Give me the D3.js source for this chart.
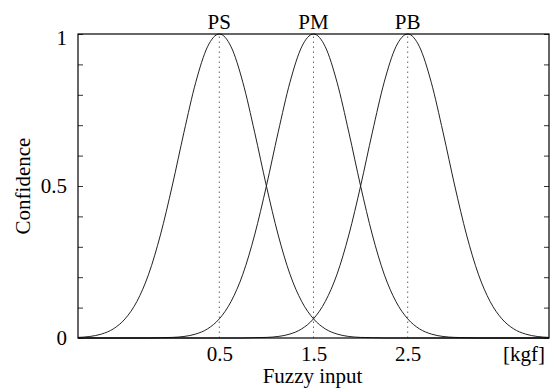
<!DOCTYPE html>
<html>
<head>
<meta charset="utf-8">
<script src="https://cdn.jsdelivr.net/npm/d3@7"></script>
<style>
  body { margin: 0; background: #fff; }
  svg text { font-family: "Liberation Serif", "Times New Roman", Times, "DejaVu Serif", serif !important; fill: #000; }
</style>
</head>
<body>
<svg id="svg1" width="551" height="392"></svg>
<script>
// sample positions along the fuzzy input axis (every 0.125)
const xs = [-1, -0.875, -0.75, -0.625, -0.5, -0.375, -0.25, -0.125,
            0, 0.125, 0.25, 0.375, 0.5, 0.625, 0.75, 0.875,
            1, 1.125, 1.25, 1.375, 1.5, 1.625, 1.75, 1.875,
            2, 2.125, 2.25, 2.375, 2.5, 2.625, 2.75, 2.875,
            3, 3.125, 3.25, 3.375, 3.5, 3.625, 3.75, 3.875, 4];

// membership values
const ps = [0.002, 0.005, 0.013, 0.030, 0.063, 0.120, 0.210, 0.339,
            0.5, 0.677, 0.841, 0.958, 1, 0.958, 0.841, 0.677,
            0.5, 0.339, 0.210, 0.120, 0.063, 0.030, 0.013, 0.005,
            0.002, 0.001, 0, 0, 0, 0, 0, 0,
            0, 0, 0, 0, 0, 0, 0, 0, 0];
const pm = [0, 0, 0, 0, 0, 0, 0, 0.001,
            0.002, 0.005, 0.013, 0.030, 0.063, 0.120, 0.210, 0.339,
            0.5, 0.677, 0.841, 0.958, 1, 0.958, 0.841, 0.677,
            0.5, 0.339, 0.210, 0.120, 0.063, 0.030, 0.013, 0.005,
            0.002, 0.001, 0, 0, 0, 0, 0, 0, 0];
const pb = [0, 0, 0, 0, 0, 0, 0, 0,
            0, 0, 0, 0, 0, 0, 0, 0.001,
            0.002, 0.005, 0.013, 0.030, 0.063, 0.120, 0.210, 0.339,
            0.5, 0.677, 0.841, 0.958, 1, 0.958, 0.841, 0.677,
            0.5, 0.339, 0.210, 0.120, 0.063, 0.030, 0.013, 0.005, 0.002];

const seriesNames = ["PS", "PM", "PB"];
const centers = [0.5, 1.5, 2.5];

const xTickValues = [0.5, 1.5, 2.5, 3.73];
const xTickLabels = ["0.5", "1.5", "2.5", "[kgf]"];
const yTickValues = [0, 0.1, 0.2, 0.3, 0.4, 0.5, 0.6, 0.7, 0.8, 0.9, 1];
const yTickLabels = { 0: "0", 0.5: "0.5", 1: "1" };

const margin = { top: 34, right: 2, bottom: 54, left: 78 };
const width = 551 - margin.left - margin.right;
const height = 392 - margin.top - margin.bottom;
const fontSize = "21px";

const svg = d3.select("#svg1")
    .append("g")
    .attr("transform", `translate(${margin.left},${margin.top})`);

const x = d3.scaleLinear().domain([-1, 4]).range([0, width]);
const y = d3.scaleLinear().domain([0, 1]).range([height, 0]);

// dotted guides at the peaks
svg.append("g")
    .selectAll("line")
    .data(centers)
    .join("line")
    .attr("x1", d => x(d)).attr("x2", d => x(d))
    .attr("y1", y(0)).attr("y2", y(1))
    .attr("stroke", "#666")
    .attr("stroke-width", 1)
    .attr("stroke-dasharray", "1.5,3.5");

// curves
const line = d3.line()
    .x((d, i) => x(xs[i]))
    .y(d => y(d))
    .curve(d3.curveMonotoneX);

svg.append("g")
    .selectAll("path")
    .data([ps, pm, pb])
    .join("path")
    .attr("fill", "none")
    .attr("stroke", "#222")
    .attr("stroke-width", 1)
    .attr("d", d => line(d));

// left axis with inward ticks
const yAxis = svg.append("g")
    .call(d3.axisRight(y).tickValues(yTickValues).tickSize(5).tickFormat(""));
yAxis.select(".domain").remove();
yAxis.selectAll("line").attr("stroke", "#333");

// right axis with inward ticks
const yAxisR = svg.append("g")
    .attr("transform", `translate(${width},0)`)
    .call(d3.axisLeft(y).tickValues(yTickValues).tickSize(5).tickFormat(""));
yAxisR.select(".domain").remove();
yAxisR.selectAll("line").attr("stroke", "#333");

// y labels
svg.append("g")
    .selectAll("text")
    .data(yTickValues.filter(d => yTickLabels[d] !== undefined))
    .join("text")
    .attr("x", -11)
    .attr("y", d => y(d))
    .attr("dy", d => d === 1 ? "0.5em" : "0.33em")
    .attr("text-anchor", "end")
    .style("font-size", fontSize)
    .text(d => yTickLabels[d]);

// x labels
const xAxis = svg.append("g")
    .attr("transform", `translate(0,${height})`)
    .call(d3.axisBottom(x).tickValues(xTickValues).tickSize(0).tickPadding(8)
        .tickFormat((d, i) => xTickLabels[i]));
xAxis.select(".domain").remove();
xAxis.attr("font-family", null).attr("font-size", null);
xAxis.selectAll("text").style("font-size", fontSize);

// frame
svg.append("rect")
    .attr("width", width).attr("height", height)
    .attr("fill", "none")
    .attr("stroke", "#000")
    .attr("stroke-width", 1.2);

// series names over peaks
svg.append("g")
    .selectAll("text")
    .data(seriesNames)
    .join("text")
    .attr("x", (d, i) => x(centers[i]))
    .attr("y", -5)
    .attr("text-anchor", "middle")
    .style("font-size", fontSize)
    .text(d => d);

// axis titles
svg.append("text")
    .attr("x", width / 2 - 1)
    .attr("y", height + 45)
    .attr("text-anchor", "middle")
    .style("font-size", fontSize)
    .text("Fuzzy input");

svg.append("text")
    .attr("transform", `translate(${-48},${height / 2}) rotate(-90)`)
    .attr("text-anchor", "middle")
    .style("font-size", fontSize)
    .text("Confidence");
</script>
</body>
</html>
